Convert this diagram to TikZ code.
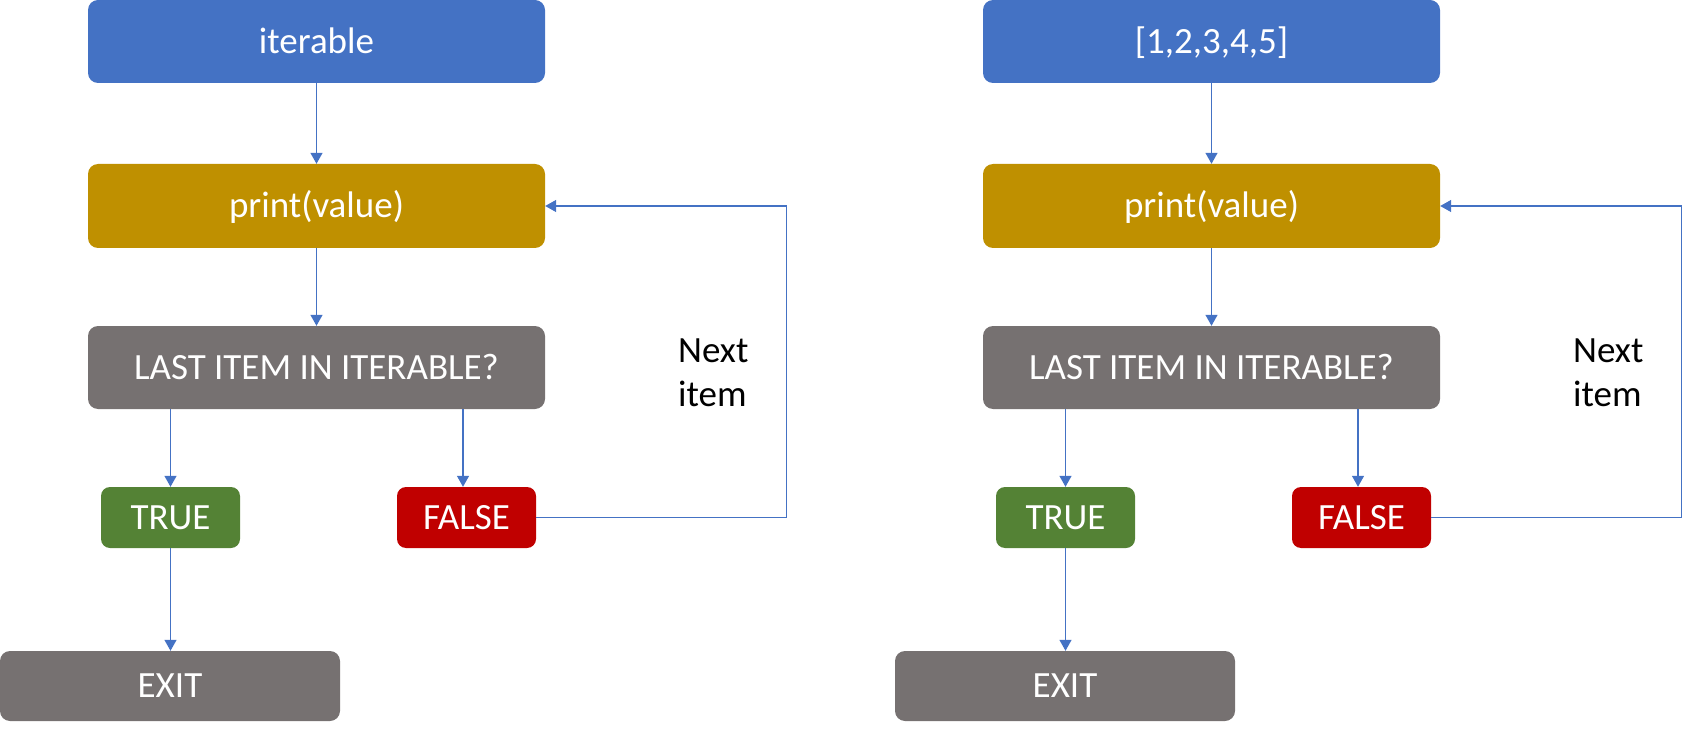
\documentclass[tikz,border=0pt]{standalone}
\usepackage{fontspec}
\setmainfont{Carlito}
\usetikzlibrary{arrows.meta}
\definecolor{cblue}{HTML}{4472C4}
\definecolor{cgold}{HTML}{BF9000}
\definecolor{cgray}{HTML}{767171}
\definecolor{cgreen}{HTML}{548235}
\definecolor{cred}{HTML}{C00000}
\tikzset{
  box/.style={rounded corners=10pt, inner sep=0pt, text=white,
    font=\fontsize{37}{44}\selectfont, text height=23.8pt, text depth=0pt},
  bigbox/.style={box, minimum width=457pt, minimum height=83pt},
  smallbox/.style={box, minimum width=139pt, minimum height=61pt, rounded corners=9pt},
  exitbox/.style={box, minimum width=340pt, minimum height=70pt},
  conn/.style={draw=cblue, line width=1.3pt, -{Triangle[length=11pt,width=12pt]}},
  label/.style={anchor=base west, inner sep=0pt, font=\fontsize{37}{44}\selectfont}
}
\begin{document}
\begin{tikzpicture}[x=1pt,y=-1pt]
\useasboundingbox (0,0) rectangle (1682,730);
\foreach \p/\dx/\t in {L/0/iterable, R/895/{[1,2,3,4,5]}}{
  \begin{scope}[xshift=\dx pt]
    \node[bigbox, fill=cblue] (\p-iter) at (316.5,41.5) {\t};
    \node[bigbox, fill=cgold, minimum height=84pt] (\p-print) at (316.5,206) {print(value)};
    \node[bigbox, fill=cgray] (\p-last) at (316.5,367.5) {LAST ITEM IN ITERABLE?};
    \node[smallbox, fill=cgreen] (\p-true) at (170.5,517.5) {TRUE};
    \node[smallbox, fill=cred] (\p-false) at (466.5,517.5) {FALSE};
    \node[exitbox, fill=cgray] (\p-exit) at (170,686) {EXIT};
    \node[label] (\p-next1) at (678,362) {Next};
    \node[label] (\p-next2) at (678,406) {item};
    \coordinate (\p-loop) at (786.5,206);
    \draw[conn] (\p-iter) -- (\p-print);
    \draw[conn] (\p-print) -- (\p-last);
    \draw[conn] (\p-last.south -| \p-true.north) -- (\p-true.north);
    \draw[conn] ([xshift=-3.5pt]\p-false.north |- \p-last.south) -- ([xshift=-3.5pt]\p-false.north);
    \draw[conn] (\p-true) -- (\p-exit.north -| \p-true.south);
    \draw[conn] (\p-false.east) -- (\p-false.east -| \p-loop) -- (\p-loop) -- (\p-print.east);
  \end{scope}
}
\end{tikzpicture}
\end{document}
